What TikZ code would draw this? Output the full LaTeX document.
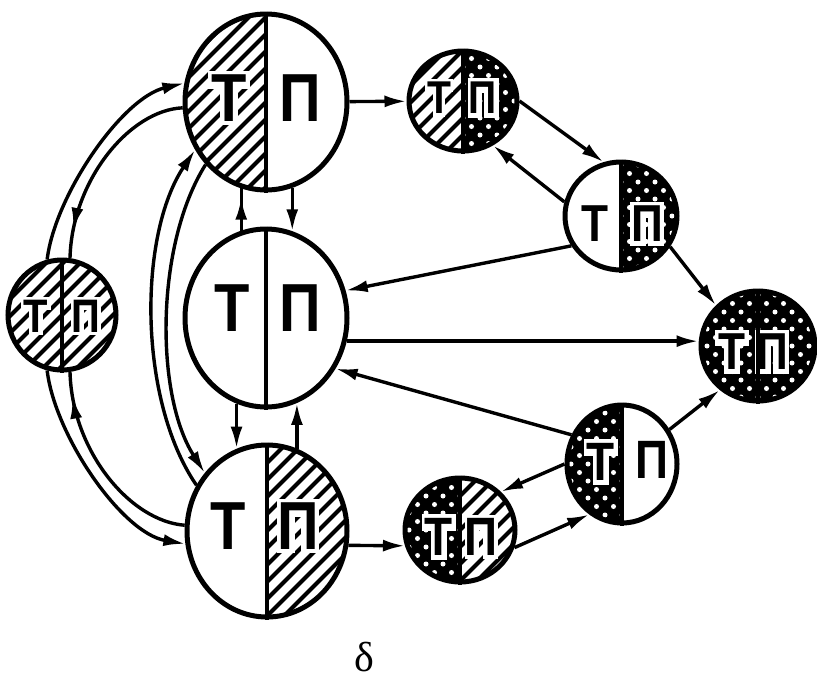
\documentclass[tikz,border=0pt]{standalone}
\usepackage{fontspec}
\setmainfont{Liberation Sans}
\newfontfamily\grk{Liberation Serif}
\usepackage{graphicx}
\usetikzlibrary{shapes.geometric,arrows.meta,calc,decorations.markings}

\tikzset{
 cell/.style={ellipse, draw=black, line width=5pt, inner sep=0pt},
 divider/.style={line width=4.5pt},
 hatchline/.style={line width=4pt},
 arr/.style={line width=3.4pt, -{Latex[length=22pt,width=12pt]}},
 plain/.style={line width=3.4pt},
 midarr/.style={postaction={decorate}, decoration={markings, mark=at position #1 with {\arrow{Latex[length=22pt,width=12pt]}}}},
 ltr/.style={inner sep=0pt, outer sep=0pt},
 halo/.style={white, line cap=rect, line join=miter},
}

% #1 cx, #2 cy, #3 rx, #4 ry, #5 side (-1 left, 1 right), #6 kind h / c
\newcommand\halfpat[6]{%
\begin{scope}[shift={(#1,#2)}]
 \clip (0,0) ellipse [x radius=#3, y radius=#4];
 \ifnum#5<0
  \clip (-#3-6,-#4-6) rectangle (0,#4+6);
 \else
  \clip (0,-#4-6) rectangle (#3+6,#4+6);
 \fi
 \if#6h
  \foreach \k in {-9,...,9} \draw[hatchline] (\k*17-130,130) -- (\k*17+130,-130);
 \else
  \fill[black] (-#3-6,-#4-6) rectangle (#3+6,#4+6);
  \foreach \i in {-8,...,8} \foreach \j in {-8,...,8}
   \fill[white] (\i*8.5+\j*8.5,\i*8.5-\j*8.5) circle[radius=2.5];
 \fi
\end{scope}}

% white halo behind a letter: #1 x, #2 y, #3 size, #4 halo
\newcommand\haloT[4]{%
 \pgfmathsetmacro\hHh{0.344*#3}\pgfmathsetmacro\hWw{0.245*#3}%
 \pgfmathsetmacro\hTk{0.15*#3}\pgfmathsetmacro\hLw{0.15*#3+2*#4}%
 \draw[halo, line width=\hLw pt] (#1-\hWw+\hTk/2, #2-\hHh+\hTk/2) -- (#1+\hWw-\hTk/2, #2-\hHh+\hTk/2)
   (#1, #2-\hHh+\hTk/2) -- (#1, #2+\hHh-\hTk/2);}
\newcommand\haloP[4]{%
 \pgfmathsetmacro\hHh{0.344*#3}\pgfmathsetmacro\hWw{0.25*#3}%
 \pgfmathsetmacro\hTk{0.15*#3}\pgfmathsetmacro\hLw{0.15*#3+2*#4}%
 \draw[halo, line width=\hLw pt] (#1-\hWw+\hTk/2, #2+\hHh-\hTk/2) -- (#1-\hWw+\hTk/2, #2-\hHh+\hTk/2)
   -- (#1+\hWw-\hTk/2, #2-\hHh+\hTk/2) -- (#1+\hWw-\hTk/2, #2+\hHh-\hTk/2);}

% #1 name, #2 x, #3 y, #4 size, #5 letter
\newcommand\ltr[5]{%
 \node[ltr, font=\fontsize{#4}{#4}\selectfont\bfseries] (#1) at (#2,#3) {\scalebox{0.85}[1]{#5}};}

\begin{document}
\begin{tikzpicture}[x=1pt,y=-1pt]
\fill[white] (0,0) rectangle (817,689);
\useasboundingbox (0,0) rectangle (817,689);

% ---- fills
\halfpat{266}{102}{81}{88}{-1}{h}
\halfpat{267}{531}{80}{86}{1}{h}
\halfpat{62}{315}{54}{55}{-1}{h}
\halfpat{62}{315}{54}{55}{1}{h}
\halfpat{463}{101}{54}{50}{-1}{h}
\halfpat{463}{101}{54}{50}{1}{c}
\halfpat{621}{216}{56}{54}{1}{c}
\halfpat{758}{346}{57}{55}{-1}{c}
\halfpat{758}{346}{57}{55}{1}{c}
\halfpat{622}{464}{55}{59}{-1}{c}
\halfpat{460}{530}{55}{52}{-1}{c}
\halfpat{460}{530}{55}{52}{1}{h}

% ---- halos behind letters on patterned halves
\haloT{229}{98}{68}{4}
\haloP{298}{526}{68}{4}
\haloT{36}{316}{47}{3}
\haloP{86}{316}{47}{3}
\haloT{439}{98}{46}{3}
\haloP{483}{98}{46}{4}
\haloP{647}{224}{52}{4}
\haloT{732}{352}{52}{4}
\haloP{772}{352}{52}{4}
\haloT{601}{462}{54}{4}
\haloT{439}{537}{54}{4}
\haloP{481}{537}{54}{3}

% ---- letters
\ltr{At}{229}{98}{68}{Т}
\ltr{Ap}{300}{98}{68}{П}
\ltr{Bt}{232}{308}{68}{Т}
\ltr{Bp}{300}{308}{68}{П}
\ltr{Ct}{228}{526}{68}{Т}
\ltr{Cp}{298}{526}{68}{П}
\ltr{Lt}{36}{316}{47}{Т}
\ltr{Lp}{86}{316}{47}{П}
\ltr{Dt}{439}{98}{46}{Т}
\ltr{Dp}{483}{98}{46}{П}
\ltr{Et}{595}{224}{52}{Т}
\ltr{Ep}{647}{224}{52}{П}
\ltr{Ft}{732}{352}{52}{Т}
\ltr{Fp}{772}{352}{52}{П}
\ltr{Gt}{601}{462}{54}{Т}
\ltr{Gp}{652}{460}{54}{П}
\ltr{Ht}{439}{537}{54}{Т}
\ltr{Hp}{481}{537}{54}{П}

% ---- cells
\node[cell, minimum width=162pt, minimum height=176pt] (A) at (266,102) {};
\node[cell, minimum width=162pt, minimum height=178pt] (B) at (266,318) {};
\node[cell, minimum width=160pt, minimum height=172pt] (C) at (267,531) {};
\node[cell, minimum width=108pt, minimum height=110pt] (L) at (62,315) {};
\node[cell, minimum width=108pt, minimum height=100pt] (D) at (463,101) {};
\node[cell, minimum width=112pt, minimum height=108pt] (E) at (621,216) {};
\node[cell, minimum width=114pt, minimum height=110pt] (F) at (758,346) {};
\node[cell, minimum width=110pt, minimum height=118pt] (G) at (622,464) {};
\node[cell, minimum width=110pt, minimum height=104pt] (H) at (460,530) {};
\foreach \n in {A,B,C,L,D,E,F,G,H}
  \draw[divider] (\n.north) -- (\n.south);

% ---- connectors
\draw[arr] (A) -- (D);
\draw[arr] (D.0) -- (E.108);
\draw[arr] (E.166) -- (D.-56);
\draw[arr] (E.-32) -- (F.136);
\draw[arr] (E.211) -- (B.19);
\draw[arr] (B.-16) -- (B.-16 -| F.west);
\draw[arr] (G.150) -- (B.-36);
\draw[arr] (G.36) -- (F.229);
\draw[arr] (G.180) -- (H.43);
\draw[arr] (H.-18) -- (G.237);
\draw[arr] (C.-10) -- (H.196);

\draw[plain, midarr=0.78] (A.254 |- B.106) -- (A.254);
\draw[arr] (A.287) -- (A.287 |- B.73);
\draw[arr] (B.251) -- (B.251 |- C.110);
\draw[arr] (B.290 |- C.70) -- (B.290);

\draw[arr] (L.105) .. controls (55,195) and (122,98) .. (A.167);
\draw[plain, midarr=0.86] (A.184) .. controls (130,110) and (72,180) .. (L.82);
\draw[arr] (L.255) .. controls (55,436) and (122,533) .. (C.189);
\draw[plain, midarr=0.88] (C.176) .. controls (130,521) and (72,451) .. (L.278);
\draw[arr] (C.147) .. controls (138,400) and (138,235) .. (A.214);
\draw[arr] (A.226) .. controls (155,245) and (155,395) .. (C.137);

\node[font=\grk\fontsize{42}{42}\selectfont, inner sep=0pt] (delta) at (364,657) {δ};
\end{tikzpicture}
\end{document}
